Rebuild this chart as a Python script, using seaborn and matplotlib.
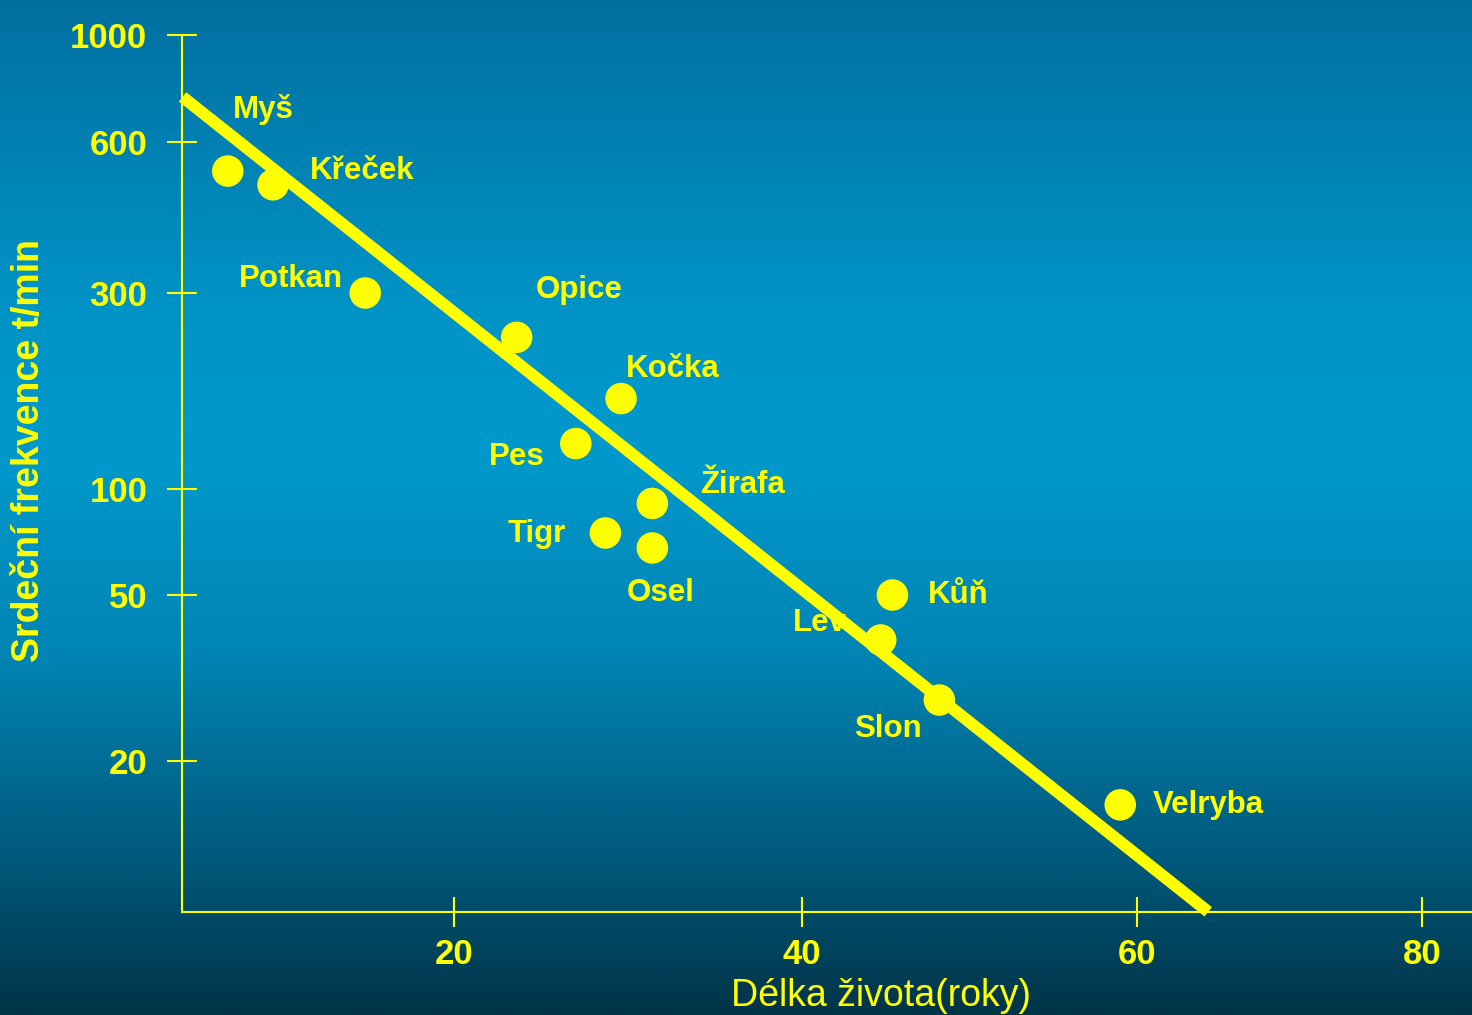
import numpy as np
import pandas as pd
import matplotlib
matplotlib.use("Agg")
import matplotlib.pyplot as plt
from matplotlib.colors import LinearSegmentedColormap
import seaborn as sns

# ---- data -------------------------------------------------------------
animals = ["Myš", "Křeček", "Potkan", "Opice", "Kočka", "Pes", "Žirafa",
           "Tigr", "Osel", "Kůň", "Lev", "Slon", "Velryba"]
lifespan_years = [7.0, 9.6, 14.9, 23.6, 29.6, 27.0, 31.4,
                  28.7, 31.4, 45.4, 44.7, 48.2, 59.0]
heart_rate_bpm = [525, 493, 300, 234, 166, 129, 91,
                  75, 68, 50, 39, 28, 15.7]

trend_years = [4.4, 65.0]
trend_bpm = [744, 8.7]

x_ticks = [20, 40, 60, 80]
x_tick_labels = ["20", "40", "60", "80"]
y_ticks = [20, 50, 100, 300, 600, 1000]
y_tick_labels = ["20", "50", "100", "300", "600", "1000"]

x_label = "Délka života(roky)"
y_label = "Srdeční frekvence t/min"

# ---- layout -----------------------------------------------------------
W, H, DPI = 1472, 1015, 100
AX_LEFT, AX_TOP, AX_BOTTOM = 182, 35, 912
AX_W, AX_H = W - AX_LEFT, AX_BOTTOM - AX_TOP

# hand-spaced axis gauges: distance (px) of each tick from the spine
X_GAUGE = [272, 620, 955, 1240]
Y_GAUGE = [151, 317, 423, 619, 770, 877]

# label placement relative to each dot (px right, px up) and alignment
label_offsets = [(5, 62), (37, 14), (-22, 14), (19, 47), (5, 30), (-31, -13),
                 (48, 18), (-40, -1), (-26, -45), (35, 0), (-88, 17),
                 (-85, -29), (33, 0)]
label_ha = ["left", "left", "right", "left", "left", "right", "left",
            "right", "left", "left", "left", "left", "left"]

YELLOW = "#FFFF00"


def piecewise(src, dst):
    src = np.asarray(src, float)
    dst = np.asarray(dst, float)
    s0 = (dst[1] - dst[0]) / (src[1] - src[0])
    s1 = (dst[-1] - dst[-2]) / (src[-1] - src[-2])

    def f(v):
        v = np.asarray(v, float)
        out = np.interp(v, src, dst)
        out = np.where(v < src[0], dst[0] + (v - src[0]) * s0, out)
        out = np.where(v > src[-1], dst[-1] + (v - src[-1]) * s1, out)
        return out
    return f


x_fwd = piecewise(x_ticks, X_GAUGE)
x_inv = piecewise(X_GAUGE, x_ticks)
_ylog = np.log10(y_ticks)
_y_fwd = piecewise(_ylog, Y_GAUGE)
_y_inv = piecewise(Y_GAUGE, _ylog)


def y_fwd(v):
    return _y_fwd(np.log10(np.maximum(np.asarray(v, float), 1e-9)))


def y_inv(p):
    return 10 ** _y_inv(p)


# ---- figure -----------------------------------------------------------
sns.set_theme(style="ticks")
plt.rcParams["font.family"] = ["Liberation Sans", "DejaVu Sans"]

fig = plt.figure(figsize=(W / DPI, H / DPI), dpi=DPI)

# blue slide-style backdrop
bg = fig.add_axes([0, 0, 1, 1], zorder=-10)
stops = [(0.0, "#0070A0"), (0.30, "#0093C6"), (0.45, "#0099CC"),
         (0.65, "#0084B3"), (0.85, "#00587A"), (1.0, "#003447")]
cmap = LinearSegmentedColormap.from_list("slide", stops)
grad = np.linspace(0, 1, 512).reshape(-1, 1)
bg.imshow(grad, aspect="auto", cmap=cmap, extent=[0, 1, 0, 1], origin="upper")
bg.set_axis_off()

ax = fig.add_axes([AX_LEFT / W, (H - AX_BOTTOM) / H, AX_W / W, AX_H / H])
ax.patch.set_alpha(0)
ax.set_xscale("function", functions=(x_fwd, x_inv))
ax.set_yscale("function", functions=(y_fwd, y_inv))

df = pd.DataFrame({"zvire": animals, "roky": lifespan_years,
                   "tep": heart_rate_bpm})

sns.lineplot(x=trend_years, y=trend_bpm, color=YELLOW, linewidth=8.6,
             errorbar=None, solid_capstyle="butt", zorder=3, ax=ax)
for ln in ax.get_lines():
    ln.set_clip_on(False)

sns.scatterplot(data=df, x="roky", y="tep", s=515, color=YELLOW,
                edgecolor="none", linewidth=0, zorder=4, legend=False, ax=ax)

for name, xv, yv, (dx, dy), ha in zip(animals, lifespan_years, heart_rate_bpm,
                                       label_offsets, label_ha):
    ax.annotate(name, (xv, yv), xytext=(dx, dy), textcoords="offset pixels",
                ha=ha, va="center", fontsize=22.5, fontweight="bold",
                color=YELLOW, zorder=2)

ax.set_xlim(float(x_inv(0)), float(x_inv(AX_W)))
ax.set_ylim(float(y_inv(0)), float(y_inv(AX_H)))

ax.set_xticks(x_ticks, labels=x_tick_labels, fontweight="bold")
ax.set_yticks(y_ticks, labels=y_tick_labels, fontweight="bold")
ax.minorticks_off()
ax.tick_params(axis="both", direction="inout", length=22, width=1.5,
               colors=YELLOW, labelsize=25)
ax.tick_params(axis="x", pad=8)
ax.tick_params(axis="y", pad=14)

for side in ("top", "right"):
    ax.spines[side].set_visible(False)
for side in ("left", "bottom"):
    ax.spines[side].set_color(YELLOW)
    ax.spines[side].set_linewidth(1.5)

ax.set_xlabel(x_label, fontsize=27, color=YELLOW, fontweight="normal")
ax.xaxis.label.set_va("center")
ax.xaxis.set_label_coords((881 - AX_LEFT) / AX_W, -(996 - AX_BOTTOM) / AX_H)

ax.set_ylabel(y_label, fontsize=27, color=YELLOW, fontweight="bold")
ax.yaxis.label.set_va("center")
ax.yaxis.set_label_coords((29 - AX_LEFT) / AX_W, (AX_BOTTOM - 451) / AX_H)

fig.savefig("out.png", dpi=DPI)
